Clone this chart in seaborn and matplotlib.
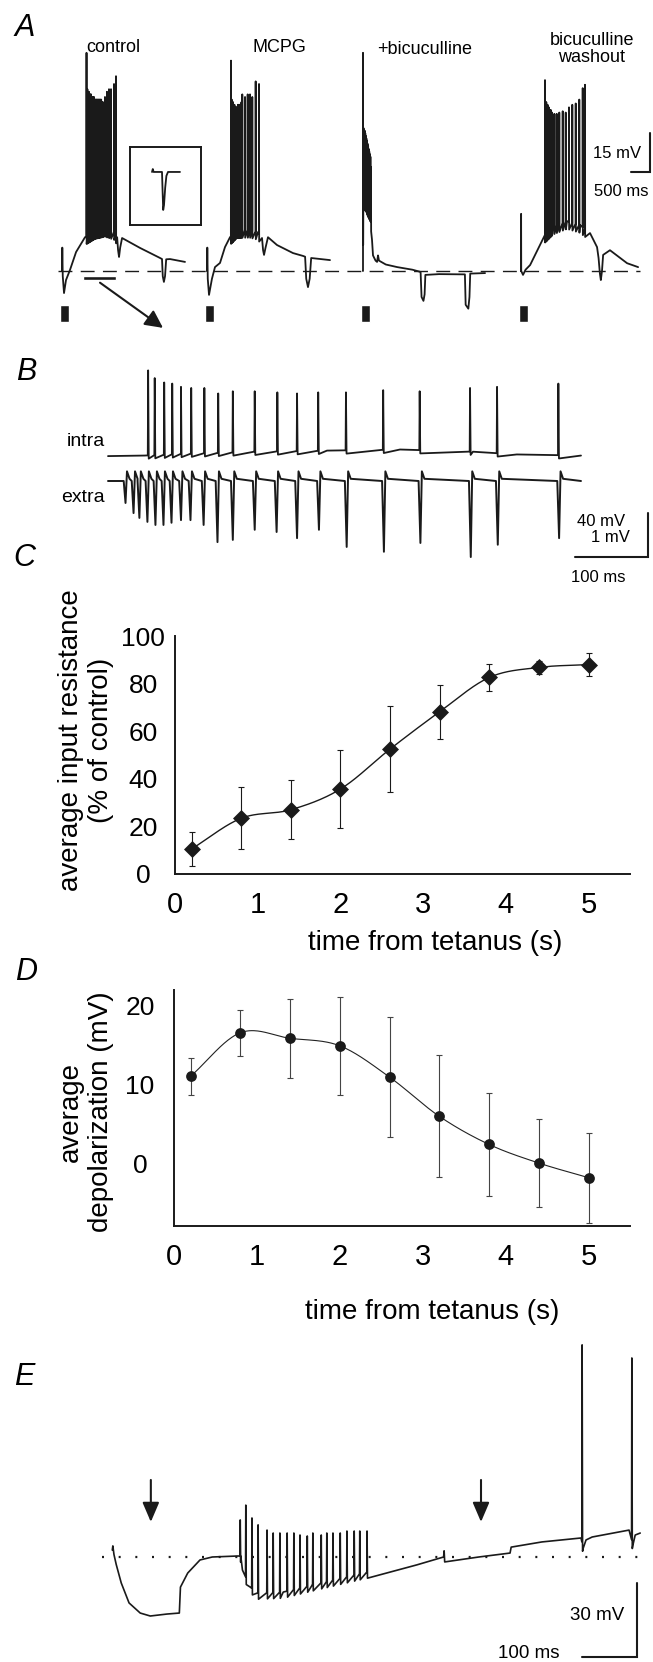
import numpy as np
import matplotlib
matplotlib.use("Agg")
import matplotlib.pyplot as plt
import seaborn as sns

# ---------------- data ----------------
# Panel C: input resistance vs time from tetanus
time_s = [0.2, 0.8, 1.4, 2.0, 2.6, 3.2, 3.8, 4.4, 5.0]
resist_mean = [10.5, 23.4, 27.0, 35.7, 52.5, 68.2, 82.6, 86.8, 88.0]
resist_err = [7.0, 13.0, 12.5, 16.3, 18.0, 11.3, 5.5, 2.7, 4.7]
# Panel D: depolarization vs time from tetanus
depol_mean = [11.0, 16.5, 15.8, 14.85, 10.9, 5.95, 2.4, 0.05, -1.8]
depol_err = [2.3, 2.9, 5.0, 6.2, 7.6, 7.7, 6.5, 5.6, 5.7]
c_yticks = [0, 20, 40, 60, 80, 100]
d_yticks = [-5, 0, 5, 10, 15, 20]
d_yticklabels = ["", "0", "", "10", "", "20"]
x_ticks = [0, 1, 2, 3, 4, 5]

# Panel A traces (ms from stimulus, mV from rest)
control_base_t = [0, 8, 20, 53, 105, 210, 370, 605, 870, 1130, 1370, 1450, 1475, 1500, 1530, 1580, 2050, 2580, 2630, 2650, 2680, 2710, 2740, 2840, 3235]
control_base_v = [0, 9, -2, -8.5, -3.5, 0.4, 7.3, 13, 15.4, 16.2, 15, 13, 8, 5.4, 9, 12.7, 8.9, 5, 4.6, -2, -4.2, -2, 4.5, 4.6, 3.5]
control_spk_t = [645, 668, 688, 708, 727, 746, 765, 784, 803, 822, 842, 862, 882, 902, 922, 943, 964, 985, 1007, 1030, 1055, 1080, 1130, 1183, 1236, 1289, 1368, 1420]
control_spk_v = [84, 70, 69, 69, 68, 68, 68, 67, 67, 67, 67, 66, 66, 66, 66, 66, 66, 66, 66, 66, 65, 65, 67, 69, 70, 70, 72, 75]

mcpg_base_t = [0, 8, 20, 53, 130, 210, 342, 473, 605, 789, 1131, 1341, 1447, 1475, 1500, 1540, 1604, 1841, 2262, 2525, 2580, 2610, 2656, 2700, 2740, 3235]
mcpg_base_v = [0, 9, -3, -9.2, -3, 1.5, 3.1, 9.2, 13, 15.8, 15.8, 15, 12.7, 8, 6.2, 9, 13, 10, 6.9, 5.8, 5.5, -3, -6.2, -3, 5, 4.2]
mcpg_spk_t = [631, 650, 668, 686, 704, 722, 740, 758, 776, 794, 812, 830, 849, 868, 886, 905, 928, 1000, 1070, 1131, 1191, 1280, 1368]
mcpg_spk_v = [81, 66, 65, 65, 64, 64, 63, 63, 63, 63, 64, 64, 64, 64, 64, 65, 68, 67, 68, 68, 67, 73, 72]

bic_base_t = [0, 8, 60, 130, 200, 237, 263, 330, 370, 395, 420, 600, 900, 1300, 1500, 1515, 1540, 1590, 1620, 1640, 2000, 2680, 2700, 2770, 2800, 2820, 3210]
bic_base_v = [0, 26, 27, 24, 22, 12, 6, 4, 3.5, 6, 4, 2.5, 1.5, 0.5, -0.3, -0.5, -10, -11.5, -9, -1.5, -1.2, -1.3, -13, -14.5, -10, -1, -0.8]
bic_spk_t = [0, 15, 30, 45, 60, 75, 90, 105, 120, 135, 150, 165, 180, 195, 210]
bic_spk_v = [84, 55, 54, 54, 53, 52, 51, 50, 49, 48, 47, 46, 45, 44, 40]

wash_base_t = [0, 3, 6, 53, 120, 240, 630, 840, 1210, 1550, 1815, 2000, 2040, 2075, 2100, 2130, 2160, 2340, 2790, 3080]
wash_base_v = [0, 22, 0, -1.5, 0.5, 2.3, 13.9, 17, 19.2, 17.7, 14.6, 9.2, 5, -1, -3.5, 0, 6.2, 8, 3, 1.5]
wash_spk_t = [631, 648, 665, 682, 699, 716, 733, 750, 767, 784, 801, 815, 876, 939, 1007, 1097, 1176, 1262, 1349, 1439, 1533, 1623, 1683]
wash_spk_v = [73.5, 65, 65, 64, 64, 63, 63, 62, 62, 62, 61, 61, 60.5, 60.5, 61, 61.5, 61, 63, 64, 64.5, 66, 70.4, 71.7]

inset_t = [0, 20, 40, 250, 265, 280, 300, 330, 360, 400, 700]
inset_v = [0, 1.5, 0, 0, -10, -19.5, -17, -8, -2, 0, 0]

a_labels = ["control", "MCPG", "+bicuculline", "bicuculline\nwashout"]

# Panel B (ms from trace start)
intra_base_t = [0, 50, 100, 200, 300, 400, 500, 560, 648]
intra_base_v = [-1, -0.5, 1, 3, 4, 5, 3, 0.5, -0.5]
intra_spk_t = [55, 64, 77, 88, 100, 114, 132, 151, 171, 201, 232, 259, 288, 326, 377, 427, 496, 533, 617]
intra_spk_v = [77, 70, 66, 65, 62, 61, 61, 56, 58, 58, 57, 56, 57, 57, 59, 58, 61, 62, 65]
extra_evt_t = [23, 34, 42, 53, 64, 75, 86, 99, 112, 130, 149, 170, 200, 230, 258, 288, 326, 377, 427, 496, 533, 617]
extra_evt_v = [0.50, 0.73, 0.84, 0.93, 1.0, 1.0, 0.95, 0.89, 0.89, 1.0, 1.39, 1.34, 1.11, 1.16, 1.30, 1.11, 1.50, 1.61, 1.41, 1.73, 1.45, 1.30]

# Panel E (ms, mV from rest)
e_base_t = [201, 202, 204, 208, 217, 231, 251, 269, 299, 321, 323, 336, 358, 380, 425, 431, 434, 448, 462, 507, 559, 634, 657, 746, 794, 795, 796, 857, 913, 915, 970, 1040, 1044, 1049, 1060, 1126, 1133, 1137, 1146]
e_base_v = [2.8, 4.5, 1, -3, -10.5, -18.6, -22.7, -23.9, -23.1, -22.7, -12.2, -6.5, -1.2, 0, 0.4, 0.4, -5.3, -12.2, -14.6, -14.2, -11.3, -7.3, -6.1, -3.2, 0, 2.5, -2, 0, 1.6, 4, 6.1, 7.7, 3.6, 6.9, 8.1, 10.9, 4.9, 8.9, 9.7]
e_spk_t = [430, 440, 451, 462, 478, 489, 501, 514, 526, 537, 550, 560, 575, 585, 596, 609, 621, 634, 644, 657, 1042, 1131]
e_spk_v = [15, 21, 15.8, 13, 10.9, 9.7, 9.7, 9.7, 9.7, 8.9, 8.5, 9.7, 8.9, 9.7, 9.7, 9.7, 10.5, 10.5, 10.5, 10.5, 85.9, 80.6]
e_arrow_t = [270, 861]

# ---------------- style ----------------
sns.set_theme(style="white", rc={
    "axes.edgecolor": "black", "text.color": "black", "axes.labelcolor": "black",
    "xtick.color": "black", "ytick.color": "black", "axes.facecolor": "none",
    "figure.facecolor": "white"})
plt.rcParams["font.family"] = ["Liberation Sans", "DejaVu Sans"]

W, H = 653, 1662
fig = plt.figure(figsize=(W / 100, H / 100), dpi=100)


def px_axes(x0, y0, x1, y1):
    return fig.add_axes([x0 / W, 1 - y1 / H, (x1 - x0) / W, (y1 - y0) / H])


def ftext(x, y, s, size=13, **kw):
    kw.setdefault("ha", "center")
    kw.setdefault("va", "center")
    fig.text(x / W, 1 - y / H, s, fontsize=size, **kw)


def build(bt, bv, st, sv, pre, post, ahp, t0=0.0):
    bt = np.asarray(bt, float)
    bv = np.asarray(bv, float)
    pts = list(zip(bt, bv))
    for t, p in zip(st, sv):
        pts.append((t - pre, np.interp(t - pre, bt, bv)))
        pts.append((t, p))
        pts.append((t + post, np.interp(t + post, bt, bv) - ahp))
    pts.sort(key=lambda q: q[0])
    a = np.array(pts)
    return a[:, 0] + t0, a[:, 1]


def draw(ax, t, v, lw=1.2, color="k"):
    sns.lineplot(x=t, y=v, ax=ax, color=color, linewidth=lw,
                 estimator=None, sort=False, legend=False)


def smooth(x, y, n=40):
    x = np.asarray(x, float)
    y = np.asarray(y, float)
    m = np.gradient(y, x)
    xs, ys = [], []
    for i in range(len(x) - 1):
        h = x[i + 1] - x[i]
        s = np.linspace(0, 1, n, endpoint=False)
        h00 = 2 * s**3 - 3 * s**2 + 1
        h10 = s**3 - 2 * s**2 + s
        h01 = -2 * s**3 + 3 * s**2
        h11 = s**3 - s**2
        xs.append(x[i] + s * h)
        ys.append(h00 * y[i] + h10 * h * m[i] + h01 * y[i + 1] + h11 * h * m[i + 1])
    xs.append([x[-1]])
    ys.append([y[-1]])
    return np.concatenate(xs), np.concatenate(ys)


# ---------------- Panel A ----------------
A_MS = 26.3    # ms per pixel
A_MV = 0.385   # mV per pixel
axA = px_axes(0, 0, 653, 330)
axA.set_xlim(0, 653 * A_MS)
axA.set_ylim(-(330 - 271) * A_MV, 271 * A_MV)
axA.axis("off")
onsets_px = [62, 207, 363, 521]
traces = [(control_base_t, control_base_v, control_spk_t, control_spk_v),
          (mcpg_base_t, mcpg_base_v, mcpg_spk_t, mcpg_spk_v),
          (bic_base_t, bic_base_v, bic_spk_t, bic_spk_v),
          (wash_base_t, wash_base_v, wash_spk_t, wash_spk_v)]
for on, (bt, bv, st, sv) in zip(onsets_px, traces):
    t, v = build(bt, bv, st, sv, 3, 4, 3, t0=on * A_MS)
    draw(axA, t, v, lw=1.3)
    axA.bar(on * A_MS - 40, 6.5, bottom=-19.6, width=9 * A_MS, align="edge", color="k")
axA.plot([58 * A_MS, 640 * A_MS], [0, 0], color="k", lw=1.0, ls=(0, (10, 6)))
axA.bar(83 * A_MS, 1.6, bottom=-3.4, width=33 * A_MS, align="edge", color="k")
axA.annotate("", xy=(163 * A_MS, -21.9), xytext=(100 * A_MS, -4.5),
             arrowprops=dict(arrowstyle="-|>,head_length=0.6,head_width=0.3",
                             lw=1.5, color="k", mutation_scale=18, shrinkA=0, shrinkB=0),
             annotation_clip=False)
axA.plot([650 * A_MS - 500, 650 * A_MS, 650 * A_MS], [38.1, 38.1, 53.1],
         color="k", lw=1.5, clip_on=False, solid_joinstyle="miter")
for xc, yc, lab in zip([113, 279, 425, 592], [48, 48, 49, 49], a_labels):
    ftext(xc, yc, lab, size=13, linespacing=1.05)
ftext(617, 153, "15 mV", size=12)
ftext(621, 191, "500 ms", size=12)

axI = px_axes(130, 147, 201, 225)
axI.set_xlim(-550, 1225)
axI.set_ylim(-27.2, 12.8)
axI.set_xticks([])
axI.set_yticks([])
for sp in axI.spines.values():
    sp.set_linewidth(1.4)
    sp.set_color("k")
draw(axI, np.asarray(inset_t, float), np.asarray(inset_v, float), lw=1.3)

# ---------------- Panel B ----------------
B_MS = 1.37
B_MV = 0.91
EXTRA_GAIN = 40.0
EXTRA_OFF = -(481 - 455) * B_MV
axB = px_axes(0, 335, 653, 575)
axB.set_xlim(0, 653 * B_MS)
axB.set_ylim(-120 * B_MV, 120 * B_MV)
axB.axis("off")
b_on = 108 * B_MS
t, v = build(intra_base_t, intra_base_v, intra_spk_t, intra_spk_v, 0.5, 0.8, 3, t0=b_on)
draw(axB, t, v, lw=1.3)
ept = [0.0, 648.0]
epv = [0.0, 0.0]
for tt, d in zip(extra_evt_t, extra_evt_v):
    ept += [tt - 1.5, tt + 1.0, tt + 3.0, tt + 6.5]
    epv += [0.0, -d, 0.22, 0.05]
order = np.argsort(ept, kind="stable")
ept = np.asarray(ept)[order] + b_on
epv = np.asarray(epv)[order] * EXTRA_GAIN + EXTRA_OFF
draw(axB, ept, epv, lw=1.4)
xb = 648 * B_MS
yb = (455 - 557) * B_MV
axB.plot([xb - 100, xb, xb], [yb, yb, yb + 40], color="k", lw=1.5,
         clip_on=False, solid_joinstyle="miter")
ftext(86, 442, "intra", size=14)
ftext(83, 497, "extra", size=14)
ftext(601, 521, "40 mV", size=12)
ftext(610, 538, "1 mV", size=12)
ftext(598, 577, "100 ms", size=12)

# ---------------- Panel C ----------------
axC = px_axes(175, 636, 630, 874)
xs, ys = smooth(time_s, resist_mean)
sns.lineplot(x=xs, y=ys, ax=axC, color="k", linewidth=1.0, estimator=None, sort=False)
axC.errorbar(time_s, resist_mean, yerr=resist_err, fmt="none", ecolor="k",
             elinewidth=0.8, capsize=2.5, capthick=0.8, clip_on=False)
sns.scatterplot(x=time_s, y=resist_mean, ax=axC, marker="D", s=75, color="k",
                edgecolor="k", linewidth=0, clip_on=False, zorder=5)
axC.set_xlim(0, 5.5)
axC.set_ylim(0, 100)
axC.set_xticks(x_ticks)
axC.set_yticks(c_yticks)
axC.set_ylabel("average input resistance\n(% of control)", fontsize=20)
axC.yaxis.set_label_coords((86 - 175) / 455, (874 - 740) / 238)
axC.yaxis.label.set_va("center")
axC.set_xlabel("time from tetanus (s)", fontsize=20)
axC.xaxis.set_label_coords((435 - 175) / 455, (874 - 943) / 238)
axC.xaxis.label.set_va("center")

# ---------------- Panel D ----------------
axD = px_axes(174, 990, 630, 1226)
xs, ys = smooth(time_s, depol_mean)
sns.lineplot(x=xs, y=ys, ax=axD, color="#222222", linewidth=0.8, estimator=None, sort=False)
axD.errorbar(time_s, depol_mean, yerr=depol_err, fmt="none", ecolor="#444444",
             elinewidth=0.8, capsize=2.5, capthick=0.8, clip_on=False)
sns.scatterplot(x=time_s, y=depol_mean, ax=axD, marker="o", s=60, color="k",
                edgecolor="k", linewidth=0, clip_on=False, zorder=5)
axD.set_xlim(0, 5.5)
axD.set_ylim(-7.9, 21.9)
axD.set_xticks(x_ticks)
axD.set_yticks(d_yticks)
axD.set_yticklabels(d_yticklabels)
axD.set_ylabel("average\ndepolarization (mV)", fontsize=20)
axD.yaxis.set_label_coords((85.5 - 174) / 456, (1226 - 1112) / 236)
axD.yaxis.label.set_va("center")
axD.set_xlabel("time from tetanus (s)", fontsize=20)
axD.xaxis.set_label_coords((432 - 174) / 456, (1226 - 1312) / 236)
axD.xaxis.label.set_va("center")

for ax, ypad in ((axC, 19.0), (axD, 20.5)):
    sns.despine(ax=ax)
    for s in ("left", "bottom"):
        ax.spines[s].set_linewidth(1.4)
        ax.spines[s].set_color("k")
    ax.tick_params(axis="both", direction="out", length=4, width=1.2, color="k")
    ax.tick_params(axis="x", labelsize=21, pad=8)
    ax.tick_params(axis="y", labelsize=19, pad=ypad)
    for tk in ax.yaxis.get_major_ticks():
        tk.label1.set_horizontalalignment("center")
    ax.grid(False)

# ---------------- Panel E ----------------
E_MS = 1.79
E_MV = 0.405
axE = px_axes(0, 1330, 653, 1662)
axE.set_xlim(0, 653 * E_MS)
axE.set_ylim(-(1662 - 1557) * E_MV, (1557 - 1330) * E_MV)
axE.axis("off")
t, v = build(e_base_t, e_base_v, e_spk_t, e_spk_v, 0.5, 0.8, 2.5)
draw(axE, t, v, lw=1.2)
axE.plot([183, 1146], [0, 0], color="k", lw=1.6, ls=(0, (0.9, 6.6)),
         dash_capstyle="butt")
for at in e_arrow_t:
    axE.annotate("", xy=(at, 14.2), xytext=(at, 31.2),
                 arrowprops=dict(arrowstyle="-|>,head_length=0.7,head_width=0.3",
                                 lw=1.5, color="k", mutation_scale=17,
                                 shrinkA=0, shrinkB=0))
xe = 637.5 * E_MS
axE.plot([xe - 100, xe, xe], [-40.5, -40.5, -10.5], color="k", lw=1.5,
         clip_on=False, solid_joinstyle="miter")
ftext(597, 1616, "30 mV", size=13.5)
ftext(529, 1654, "100 ms", size=13.5)

# panel letters
for (xl, yl, L) in ((25, 28, "A"), (26, 372, "B"), (24, 558, "C"), (26, 972, "D"), (24, 1377, "E")):
    ftext(xl, yl, L, size=22, style="italic")

fig.savefig("out.png", dpi=100)
